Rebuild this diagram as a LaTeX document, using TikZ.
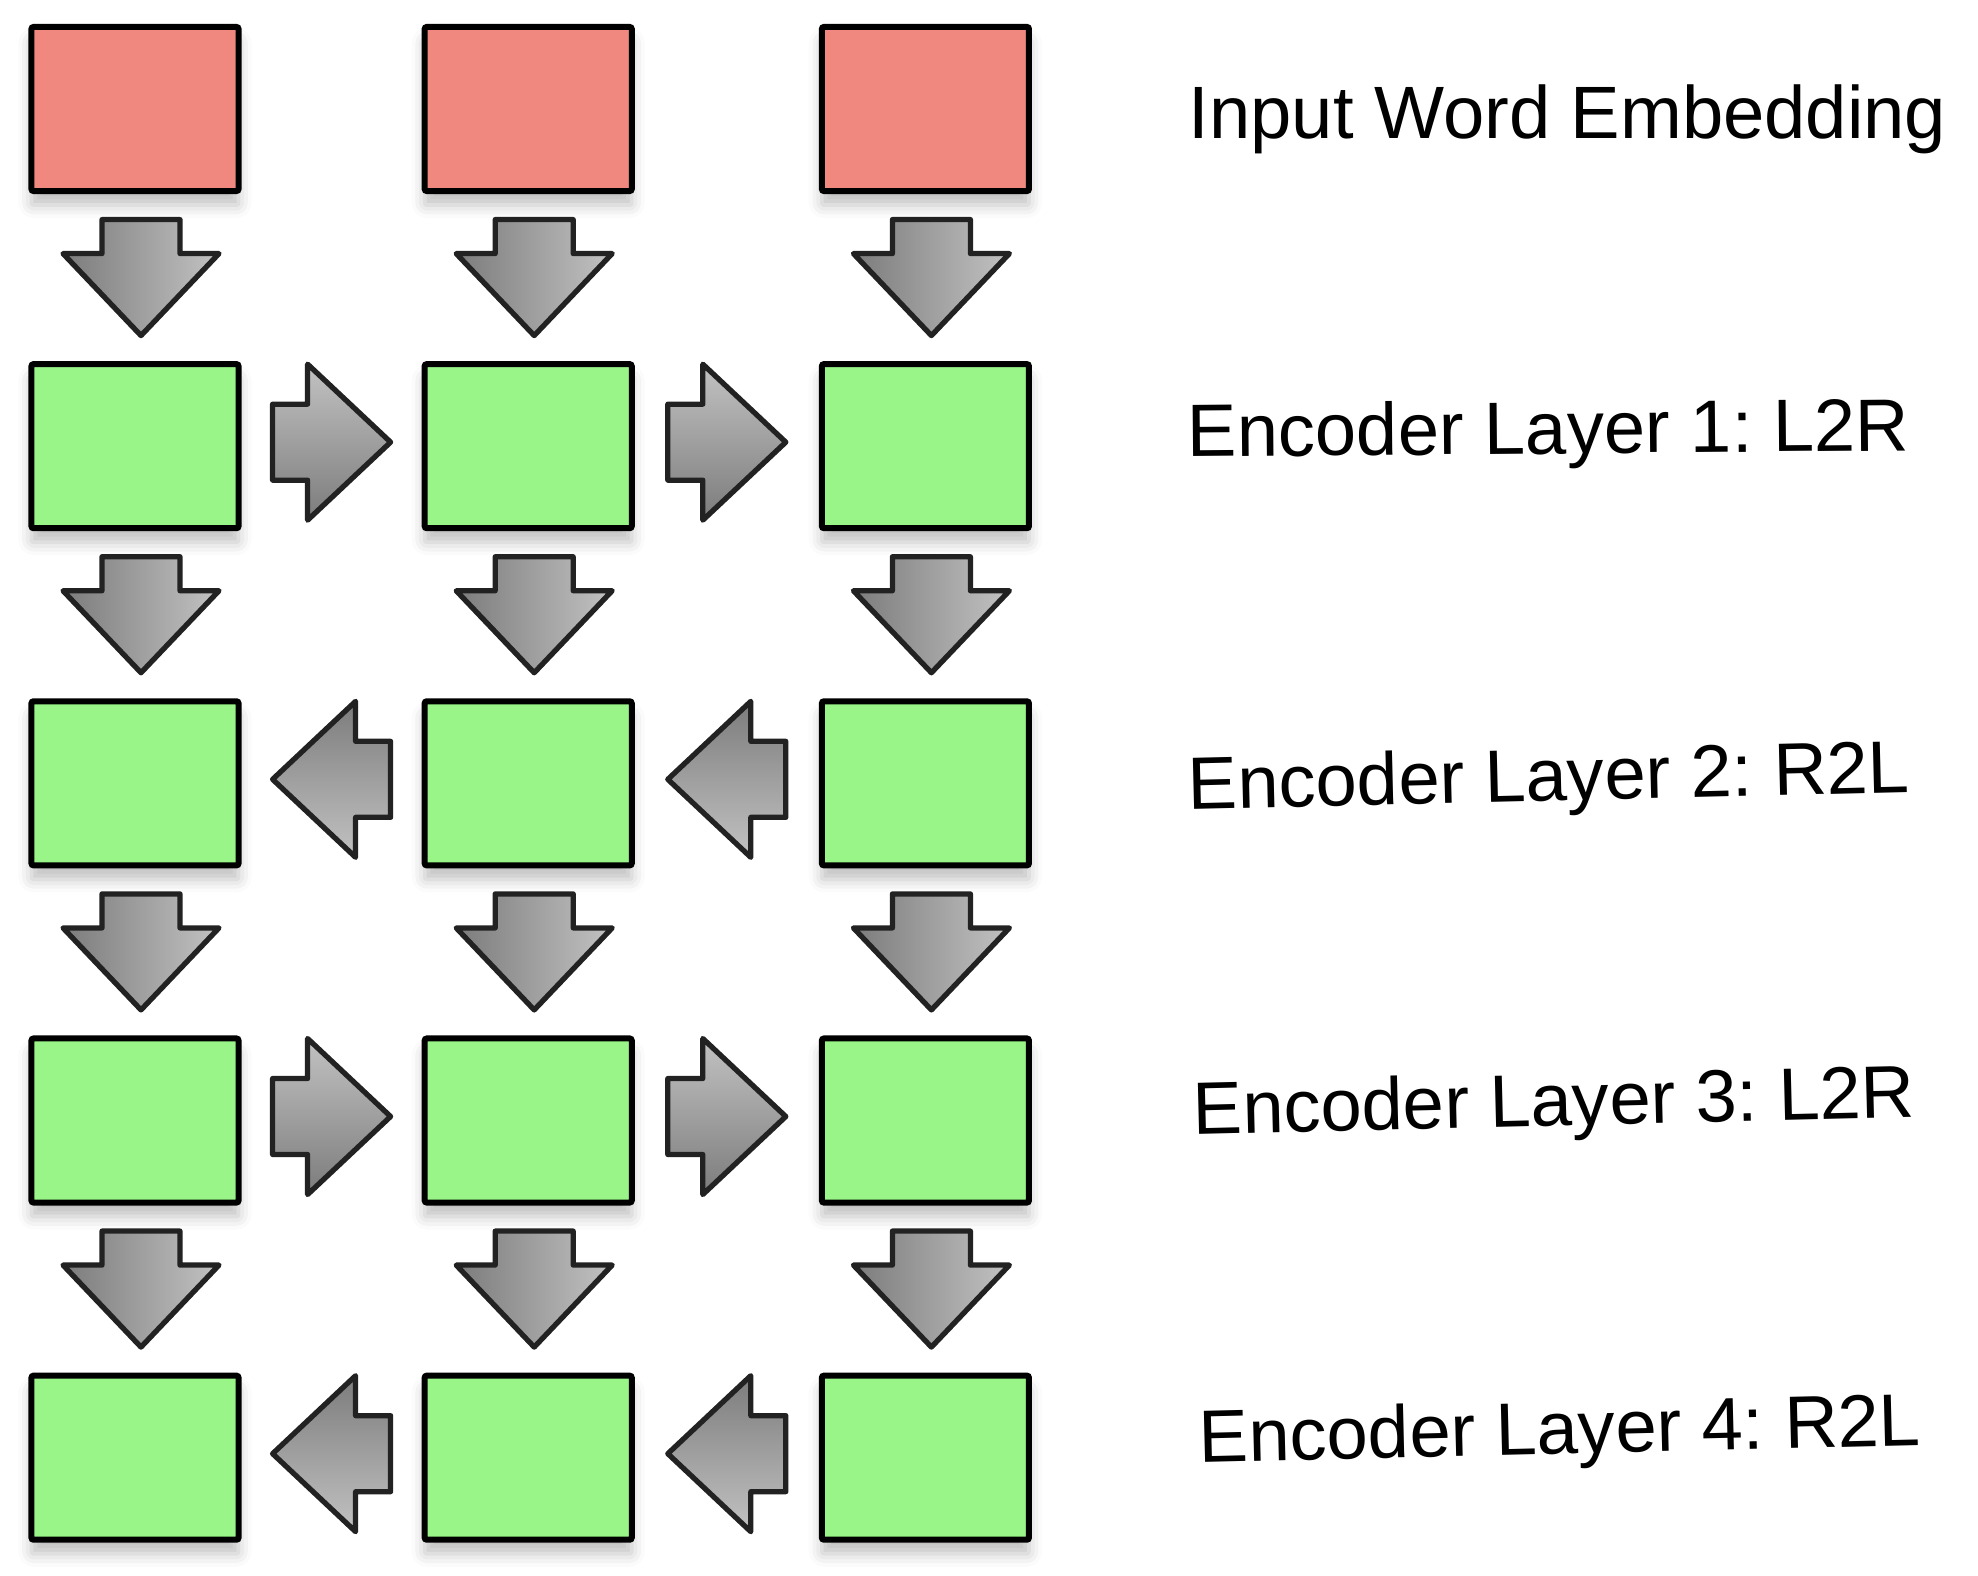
\documentclass[tikz,border=0pt]{standalone}
\usepackage{fontspec}
\setmainfont{Liberation Sans}
\usepackage{tikz}
\usetikzlibrary{positioning}
\usetikzlibrary{calc}
\usetikzlibrary{shadows.blur}

\definecolor{embred}{HTML}{F08880}
\definecolor{encgreen}{HTML}{99F587}
\definecolor{arrdark}{HTML}{7C7C7C}
\definecolor{arrlight}{HTML}{C2C2C2}
\definecolor{arredge}{HTML}{222222}

\tikzstyle{cell}=[draw=black, line width=1.7pt, rounded corners=0.6pt, minimum width=2.07cm, minimum height=1.64cm, inner sep=0pt,
  blur shadow={shadow xshift=0pt, shadow yshift=-0.14cm, shadow blur radius=0.13cm, shadow opacity=25}]
\tikzstyle{embcell}=[cell, fill=embred]
\tikzstyle{enccell}=[cell, fill=encgreen]
\tikzstyle{arrline}=[draw=arredge, line width=1.5pt, line join=round]
\tikzstyle{lbl}=[inner sep=0pt, anchor=base west, font=\fontsize{21.1}{25}\selectfont]

\tikzset{
  dnarrow/.pic={\path[arrline, left color=arrdark, right color=arrlight]
    (-33,-58) -- (45,-58) -- (45,-24) -- (84,-24) -- (6,58) -- (-72,-24) -- (-33,-24) -- cycle;},
  rtarrow/.pic={\path[arrline, top color=arrlight, bottom color=arrdark]
    (-59,-42) -- (-24,-42) -- (-24,-82) -- (59,-4) -- (-24,74) -- (-24,34) -- (-59,34) -- cycle;},
  ltarrow/.pic={\path[arrline, top color=arrdark, bottom color=arrlight]
    (59,-42) -- (24,-42) -- (24,-82) -- (-59,-4) -- (24,74) -- (24,34) -- (59,34) -- cycle;}
}

\begin{document}
\frenchspacing
\begin{tikzpicture}[x=0.01cm, y=-0.01cm]
            \useasboundingbox (0,0) rectangle (1978,1576);

            % input word embedding
            \node[embcell] (w1) at (135,109) {};
            \node[embcell, right=1.80cm of w1] (w2) {};
            \node[embcell, right=1.84cm of w2] (w3) {};

            % encoder layers
            \node[enccell, below=1.67cm of w1] (a1) {};
            \node[enccell, right=1.80cm of a1] (a2) {};
            \node[enccell, right=1.84cm of a2] (a3) {};
            \node[enccell, below=1.67cm of a1] (b1) {};
            \node[enccell, right=1.80cm of b1] (b2) {};
            \node[enccell, right=1.84cm of b2] (b3) {};
            \node[enccell, below=1.67cm of b1] (c1) {};
            \node[enccell, right=1.80cm of c1] (c2) {};
            \node[enccell, right=1.84cm of c2] (c3) {};
            \node[enccell, below=1.67cm of c1] (d1) {};
            \node[enccell, right=1.80cm of d1] (d2) {};
            \node[enccell, right=1.84cm of d2] (d3) {};

            % upward flow
            \pic at ($(w1.south)!0.5!(a1.north)$) {dnarrow};
            \pic at ($(w2.south)!0.5!(a2.north)$) {dnarrow};
            \pic at ($(w3.south)!0.5!(a3.north)$) {dnarrow};
            \pic at ($(a1.south)!0.5!(b1.north)$) {dnarrow};
            \pic at ($(a2.south)!0.5!(b2.north)$) {dnarrow};
            \pic at ($(a3.south)!0.5!(b3.north)$) {dnarrow};
            \pic at ($(b1.south)!0.5!(c1.north)$) {dnarrow};
            \pic at ($(b2.south)!0.5!(c2.north)$) {dnarrow};
            \pic at ($(b3.south)!0.5!(c3.north)$) {dnarrow};
            \pic at ($(c1.south)!0.5!(d1.north)$) {dnarrow};
            \pic at ($(c2.south)!0.5!(d2.north)$) {dnarrow};
            \pic at ($(c3.south)!0.5!(d3.north)$) {dnarrow};

            % sideways flow
            \pic at ($(a1.east)!0.5!(a2.west)$) {rtarrow};
            \pic at ($(a2.east)!0.5!(a3.west)$) {rtarrow};
            \pic at ($(b1.east)!0.5!(b2.west)$) {ltarrow};
            \pic at ($(b2.east)!0.5!(b3.west)$) {ltarrow};
            \pic at ($(c1.east)!0.5!(c2.west)$) {rtarrow};
            \pic at ($(c2.east)!0.5!(c3.west)$) {rtarrow};
            \pic at ($(d1.east)!0.5!(d2.west)$) {ltarrow};
            \pic at ($(d2.east)!0.5!(d3.west)$) {ltarrow};

            \node[lbl] (lw) at (1188,139) {Input Word Embedding};
            \node[lbl, rotate=0.5] (la) at (1187,457) {Encoder Layer 1: L2R};
            \node[lbl, rotate=1.4] (lb) at (1188,810) {Encoder Layer 2: R2L};
            \node[lbl, rotate=1.4] (lc) at (1193,1135) {Encoder Layer 3: L2R};
            \node[lbl, rotate=1.4] (ld) at (1199,1463) {Encoder Layer 4: R2L};
        \end{tikzpicture}
\end{document}
